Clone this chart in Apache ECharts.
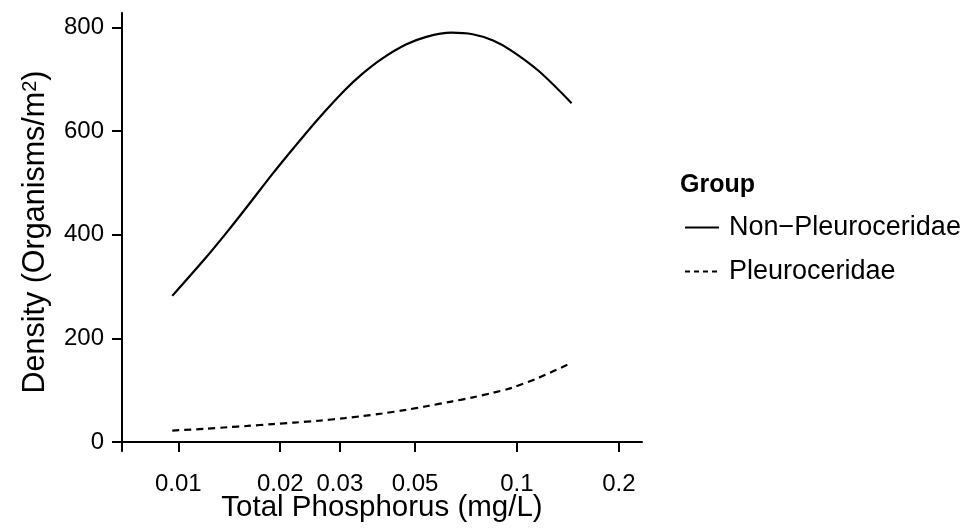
<!DOCTYPE html>
<html>
<head>
<meta charset="utf-8">
<script src="https://cdn.jsdelivr.net/npm/echarts@6/dist/echarts.min.js"></script>
<style>html,body{margin:0;padding:0;background:#fff}#c{width:966px;height:529px}</style>
</head>
<body>
<div id="c"></div>
<script>
const totalPhosphorus = [0.0096, 0.012, 0.014, 0.016, 0.019, 0.022, 0.026, 0.031, 0.035, 0.04, 0.047, 0.054, 0.064, 0.074, 0.085, 0.096, 0.116, 0.145];
const nonPleuroceridae = [282, 354, 407, 455, 518, 569, 625, 679, 711, 740, 767, 782, 790, 787, 775, 756, 716, 654];
const pleuroceridae = [22, 25.5, 28.5, 31, 34.5, 37.5, 41, 46, 50, 55, 62, 69, 78, 86, 95, 104, 124, 153];
const xTicks = [0.01, 0.02, 0.03, 0.05, 0.1, 0.2];
const yTicks = [0, 200, 400, 600, 800];
const seriesNames = ['Non\u2212Pleuroceridae', 'Pleuroceridae'];
const xTitle = 'Total Phosphorus (mg/L)';

const FONT = 'Liberation Sans, Arial, Helvetica, sans-serif';
const GRID = {left: 122, right: 324, top: 13, bottom: 78};
const panelCenterX = GRID.left + (966 - GRID.left - GRID.right) / 2;
const chart = echarts.init(document.getElementById('c'), null, {renderer: 'canvas'});
const pairs = ys => totalPhosphorus.map((x, i) => [x, ys[i]]);

chart.setOption({
  animation: false,
  backgroundColor: '#fff',
  grid: Object.assign({containLabel: false, outerBoundsMode: 'none'}, GRID),
  title: {
    text: 'Group', left: 675, top: 168,
    textStyle: {fontFamily: FONT, fontSize: 25, fontWeight: 'bold', color: '#000'}
  },
  graphic: [{
    type: 'text', x: panelCenterX, y: 493,
    style: {text: xTitle, fontFamily: FONT, fontSize: 29.5, fill: '#000',
      textAlign: 'center', align: 'center', textVerticalAlign: 'top', verticalAlign: 'top'}
  }],
  legend: {
    orient: 'vertical', left: 679, top: 209,
    itemWidth: 34, itemHeight: 14, itemGap: 17,
    data: [seriesNames[0], {name: seriesNames[1], lineStyle: {type: [5, 4]}}],
    itemStyle: {color: 'rgba(0,0,0,0)', borderWidth: 0, opacity: 0},
    textStyle: {fontFamily: FONT, fontSize: 27, color: '#000', padding: [0, 0, 0, 5]}
  },
  xAxis: {
    type: 'log', logBase: 10, min: 0.00682, max: 0.234,
    axisLine: {show: true, lineStyle: {color: '#000', width: 2}},
    axisTick: {show: true, length: 10, lineStyle: {color: '#000', width: 2}, customValues: xTicks},
    axisLabel: {fontFamily: FONT, fontSize: 24, color: '#000', margin: 21, customValues: xTicks,
      formatter: v => String(+Number(v).toPrecision(3))},
    splitLine: {show: false}, minorTick: {show: false}
  },
  yAxis: {
    type: 'value', min: -17.4, max: 828,
    name: 'Density (Organisms/m{sup|2})', nameLocation: 'middle', nameGap: 71,
    nameTextStyle: {fontFamily: FONT, fontSize: 30.5, color: '#000',
      rich: {sup: {fontFamily: FONT, fontSize: 20, color: '#000', verticalAlign: 'top', lineHeight: 31}}},
    axisLine: {show: true, lineStyle: {color: '#000', width: 2}},
    axisTick: {show: true, length: 10, lineStyle: {color: '#000', width: 2}, customValues: yTicks},
    axisLabel: {fontFamily: FONT, fontSize: 24, color: '#000', margin: 18, customValues: yTicks},
    splitLine: {show: false}
  },
  series: [
    {name: seriesNames[0], type: 'line', data: pairs(nonPleuroceridae), smooth: 0.3,
     symbol: 'none', lineStyle: {color: '#000', width: 2.2, type: 'solid'}, itemStyle: {color: '#000'}},
    {name: seriesNames[1], type: 'line', data: pairs(pleuroceridae), smooth: 0.3,
     symbol: 'none', lineStyle: {color: '#000', width: 2.2, type: [7, 5]}, itemStyle: {color: '#000'}}
  ]
});
</script>
</body>
</html>
